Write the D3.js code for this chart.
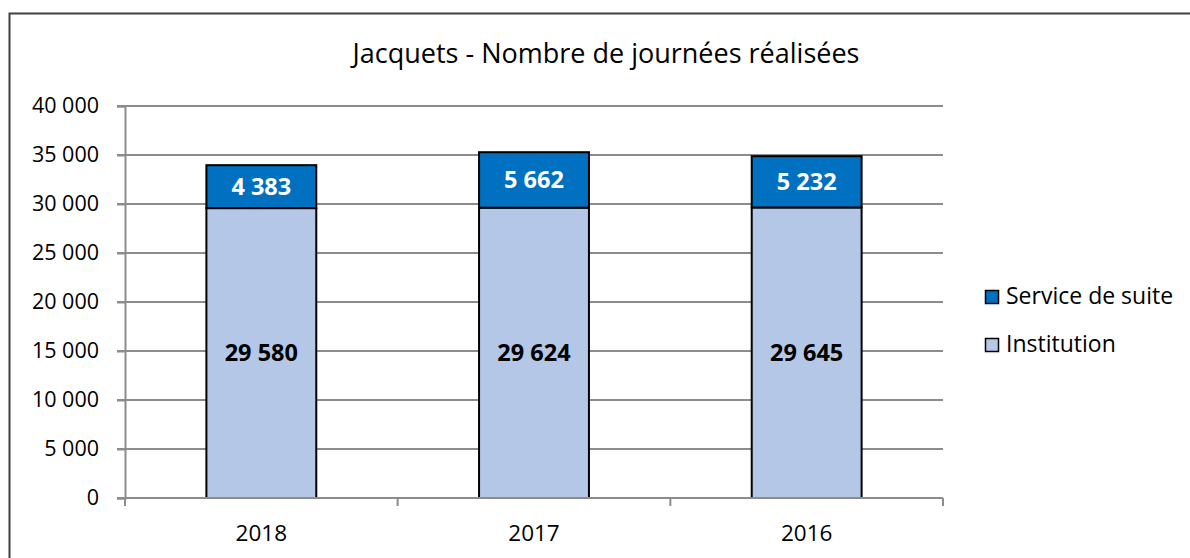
<!DOCTYPE html>
<html>
<head>
<meta charset="utf-8">
<script src="https://cdn.jsdelivr.net/npm/d3@7"></script>
<style>
  body { margin: 0; background: white; }
  text { font-family: "Open Sans", "Noto Sans", sans-serif; }
</style>
</head>
<body>
<div id="container"></div>
<script>
let w = 1190;
let h = 558;

// DATA
let years = ["2018", "2017", "2016"];
let institution = [29580, 29624, 29645];
let serviceSuite = [4383, 5662, 5232];
let yTicks = [0, 5000, 10000, 15000, 20000, 25000, 30000, 35000, 40000];
let seriesNames = ["Service de suite", "Institution"];
let seriesColors = ["#0070c0", "#b4c7e7"];

let fmt = function(v) {
  return d3.format(",")(v).replace(/,/g, " ");
};

let viz = d3.select("#container").append("svg")
    .attr("width", w)
    .attr("height", h)
    .style("display", "block");

// outer frame
viz.append("rect")
    .attr("x", 9.5).attr("y", 13.5)
    .attr("width", w + 10).attr("height", h + 10)
    .attr("fill", "white")
    .attr("stroke", "#404040")
    .attr("stroke-width", 2);

// SCALES
let plotLeft = 125, plotRight = 943, plotTop = 106, plotBottom = 498;
let xScale = d3.scaleBand().domain(years).range([plotLeft, plotRight]).padding(0);
let yScale = d3.scaleLinear().domain([0, 40000]).range([plotBottom, plotTop]);
let barW = xScale.bandwidth() * 0.403;

// gridlines
viz.selectAll(".grid").data(yTicks.slice(1)).enter()
  .append("line")
    .attr("class", "grid")
    .attr("x1", plotLeft - 8).attr("x2", plotRight)
    .attr("y1", function(d) { return yScale(d); })
    .attr("y2", function(d) { return yScale(d); })
    .attr("stroke", "#8c8c8c")
    .attr("stroke-width", 2);

// y axis
let yAxis = d3.axisLeft(yScale).tickValues(yTicks).tickSize(8).tickPadding(18).tickFormat(fmt);
let yG = viz.append("g").attr("transform", "translate(" + plotLeft + ",0)").call(yAxis);
yG.select(".domain").attr("stroke", "#8c8c8c").attr("stroke-width", 2);
yG.selectAll(".tick line").attr("stroke", "#8c8c8c").attr("stroke-width", 2);
yG.selectAll(".tick text").attr("font-size", 21.5).attr("fill", "#000")
    .style("font-family", "'Open Sans', sans-serif");

// bars - institution
viz.selectAll(".inst").data(years).enter()
  .append("rect")
    .attr("class", "inst")
    .attr("x", function(d) { return xScale(d) + (xScale.bandwidth() - barW) / 2; })
    .attr("y", function(d, i) { return yScale(institution[i]); })
    .attr("width", barW)
    .attr("height", function(d, i) { return yScale(0) - yScale(institution[i]); })
    .attr("fill", seriesColors[1])
    .attr("stroke", "#000")
    .attr("stroke-width", 2);

// bars - service de suite
viz.selectAll(".serv").data(years).enter()
  .append("rect")
    .attr("class", "serv")
    .attr("x", function(d) { return xScale(d) + (xScale.bandwidth() - barW) / 2; })
    .attr("y", function(d, i) { return yScale(institution[i] + serviceSuite[i]); })
    .attr("width", barW)
    .attr("height", function(d, i) { return yScale(institution[i]) - yScale(institution[i] + serviceSuite[i]); })
    .attr("fill", seriesColors[0])
    .attr("stroke", "#000")
    .attr("stroke-width", 2);

// x axis
let xG = viz.append("g").attr("transform", "translate(0," + plotBottom + ")");
xG.append("line").attr("x1", plotLeft - 8).attr("x2", plotRight)
    .attr("stroke", "#8c8c8c").attr("stroke-width", 2);
let boundaries = years.map(function(d) { return xScale(d); }).concat([plotRight]);
xG.selectAll(".xtick").data(boundaries).enter()
  .append("line")
    .attr("x1", function(d) { return d; }).attr("x2", function(d) { return d; })
    .attr("y1", 0).attr("y2", 8)
    .attr("stroke", "#8c8c8c").attr("stroke-width", 2);
xG.selectAll(".xlabel").data(years).enter()
  .append("text")
    .attr("x", function(d) { return xScale(d) + xScale.bandwidth() / 2; })
    .attr("y", 43)
    .attr("text-anchor", "middle")
    .attr("font-size", 22.5)
    .text(function(d) { return d; });

// value labels
viz.selectAll(".instLabel").data(years).enter()
  .append("text")
    .attr("x", function(d) { return xScale(d) + xScale.bandwidth() / 2; })
    .attr("y", function(d, i) { return yScale(institution[i] / 2) + 8; })
    .attr("text-anchor", "middle")
    .attr("font-size", 23.5)
    .attr("font-weight", "bold")
    .attr("fill", "#000")
    .text(function(d, i) { return fmt(institution[i]); });

viz.selectAll(".servLabel").data(years).enter()
  .append("text")
    .attr("x", function(d) { return xScale(d) + xScale.bandwidth() / 2; })
    .attr("y", function(d, i) { return yScale(institution[i] + serviceSuite[i] / 2) + 8; })
    .attr("text-anchor", "middle")
    .attr("font-size", 23.5)
    .attr("font-weight", "bold")
    .attr("fill", "#fff")
    .text(function(d, i) { return fmt(serviceSuite[i]); });

// title
viz.append("text")
    .attr("x", 606).attr("y", 63)
    .attr("text-anchor", "middle")
    .attr("font-size", 27)
    .attr("fill", "#000")
    .text("Jacquets - Nombre de journées réalisées");

// legend
let legend = viz.selectAll(".legend").data(seriesNames).enter()
  .append("g")
    .attr("transform", function(d, i) { return "translate(985," + (290 + i * 48) + ")"; });
legend.append("rect")
    .attr("x", 0.5).attr("y", 0.5).attr("width", 13).attr("height", 13)
    .attr("fill", function(d, i) { return seriesColors[i]; })
    .attr("stroke", "#000").attr("stroke-width", 1.5);
legend.append("text")
    .attr("x", 21).attr("y", 14)
    .attr("font-size", 23)
    .attr("fill", "#000")
    .text(function(d) { return d; });
</script>
</body>
</html>
